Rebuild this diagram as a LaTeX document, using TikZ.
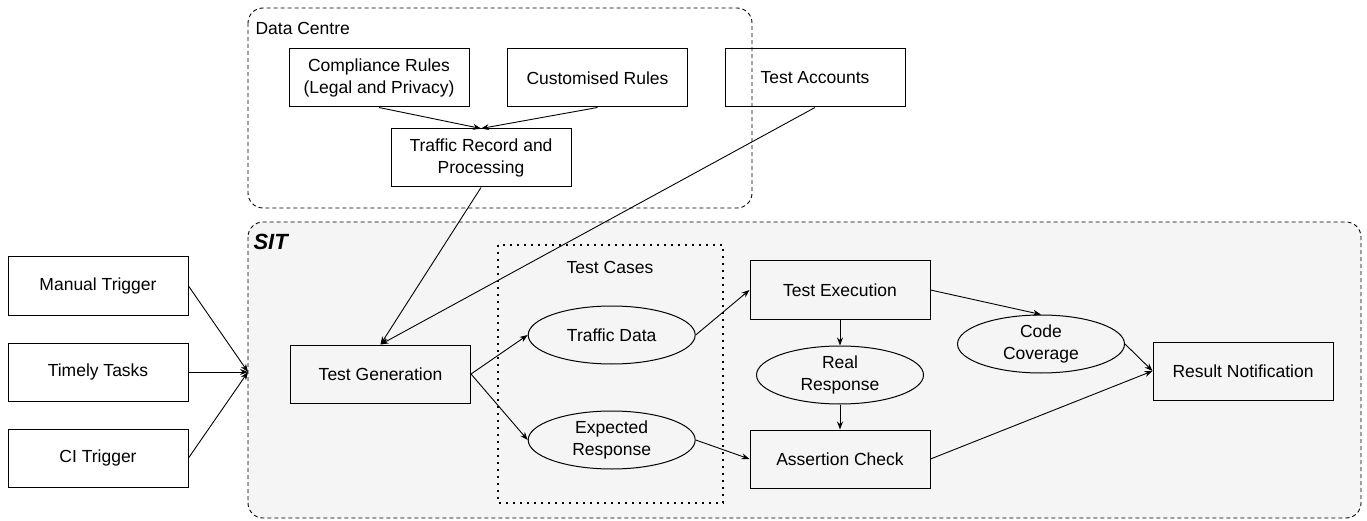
\documentclass[tikz,border=0pt]{standalone}
\usepackage{fontspec}
\setmainfont{Liberation Sans}
\usetikzlibrary{arrows.meta,shapes.geometric}

\begin{document}
\begin{tikzpicture}[x=1pt, y=-1pt,
    every node/.style={font=\fontsize{17.5}{21.5}\selectfont},
    box/.style={draw, line width=1pt, minimum width=180pt, minimum height=58pt, align=center, inner sep=2pt},
    oval/.style={draw, ellipse, line width=1pt, minimum width=167pt, minimum height=58pt, align=center, inner sep=0pt},
    link/.style={line width=0.9pt, -{Stealth[length=8pt,width=6pt]}}]
    \definecolor{sitFill}{HTML}{F5F5F5}
    \definecolor{groupBorder}{HTML}{000000}

    % Fix the page size
    \useasboundingbox (0,0) rectangle (1367,521);

    % Draw groups
    \draw[groupBorder, line width=0.9pt, dash pattern=on 4pt off 3pt, rounded corners=15pt] (248,8) rectangle (752,208);
    \filldraw[fill=sitFill, draw=groupBorder, line width=0.9pt, dash pattern=on 4pt off 3pt, rounded corners=15pt] (248,222) rectangle (1361,518);
    \draw[line width=1.8pt, dash pattern=on 1.8pt off 5.2pt] (498,245) rectangle (723,503);

    % Group labels
    \node[anchor=west] (dcLabel) at (252,28) {Data Centre};
    \node[anchor=west, font=\fontsize{22}{26}\selectfont\bfseries\itshape] (sitLabel) at (250,242) {SIT};
    \node (casesLabel) at (610,267) {Test Cases};

    % Data Centre
    \node[box] (compliance) at (379,78) {Compliance Rules\\(Legal and Privacy)};
    \node[box] (customised) at (597.5,78) {Customised Rules};
    \node[box] (accounts) at (815,78) {Test Accounts};
    \node[box] (traffic) at (481,158) {Traffic Record and\\Processing};

    % Triggers
    \node[box] (manual) at (98,286) {Manual Trigger};
    \node[box] (timely) at (98,372) {Timely Tasks};
    \node[box] (ci) at (98,458) {CI Trigger};
    \coordinate (sitIn) at (248,372);

    % SIT
    \node[box] (generation) at (380.5,374) {Test Generation};
    \node[oval] (trafficData) at (611.7,335) {Traffic Data};
    \node[oval] (expected) at (611.7,440) {Expected\\Response};
    \node[box] (execution) at (840,290) {Test Execution};
    \node[oval] (real) at (840,375) {Real\\Response};
    \node[box] (assertion) at (840,459) {Assertion Check};
    \node[oval] (coverage) at (1041,344) {Code\\Coverage};
    \node[box] (result) at (1243,371) {Result Notification};

    % Connectors
    \draw[link] (compliance.south) -- (traffic.north);
    \draw[link] (customised.south) -- (traffic.north);
    \draw[link] (traffic.south) -- (generation.north);
    \draw[link] (accounts.south) -- (generation.north);
    \foreach \src in {manual,timely,ci}
        \draw[link] (\src.east) -- (sitIn);
    \draw[link] (generation.east) -- (trafficData.west);
    \draw[link] (generation.east) -- (expected.west);
    \draw[link] (trafficData.east) -- (execution.west);
    \draw[link] (expected.east) -- (assertion.west);
    \draw[link] (execution.south) -- (real.north);
    \draw[link] (real.south) -- (assertion.north);
    \draw[link] (execution.east) -- (coverage.north);
    \draw[link] (coverage.east) -- (result.west);
    \draw[link] (assertion.east) -- (result.west);
\end{tikzpicture}
\end{document}
